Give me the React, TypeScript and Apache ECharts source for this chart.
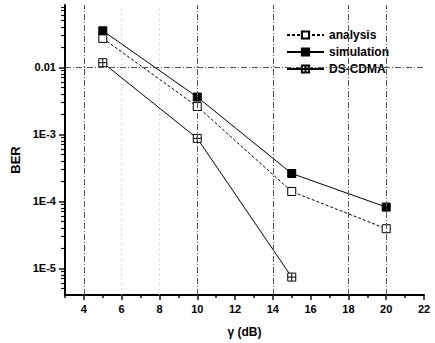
import React, { useEffect, useRef } from "react";
import * as echarts from "echarts";

const gamma = [5, 10, 15, 20];
const analysis = [0.027, 0.0026, 1.4e-4, 3.9e-5];
const simulation = [0.035, 0.0036, 2.6e-4, 8.2e-5];
const dsGamma = [5, 10, 15];
const dsCdma = [0.0117, 8.7e-4, 7.4e-6];

const xTickLabels = [4, 6, 8, 10, 12, 14, 16, 18, 20, 22];
const xMinorTicks = [3, 5, 7, 9, 11, 13, 15, 17, 19, 21];
const yTickLabels = [1e-5, 1e-4, 1e-3, 0.01];
const yMinorTicks: number[] = [];
for (let e = -6; e <= -2; e++) {
  for (let m = 2; m <= 9; m++) {
    const v = m * Math.pow(10, e);
    if (v > 4e-6 && v < 0.085) yMinorTicks.push(v);
  }
}

const strongX = [4, 10, 14, 18, 20];
const faintX = [6, 8];
const strongY = [0.01, 1e-3, 1e-5];
const faintY = [1e-4];

const FONT = "'Liberation Sans', Arial, sans-serif";

function fmtY(v: number) {
  if (v >= 0.01 - 1e-9) return "0.01";
  const e = Math.round(Math.log10(v));
  return "1E" + e;
}

const crossSquare = "path://M0,0H10V10H0Z M5,0V10 M0,5H10";

export default function App() {
  const ref = useRef<HTMLDivElement>(null);
  useEffect(() => {
    if (!ref.current) return;
    const chart = echarts.init(ref.current, undefined, { renderer: "svg" });
    const strongStyle = { color: "#555", width: 1, type: [6, 2, 1, 2] };
    const faintStyle = { color: "#bbb", width: 1, type: [1, 4] };
    const markData: any[] = [
      ...strongX.map((v) => ({ xAxis: v, lineStyle: strongStyle })),
      ...faintX.map((v) => ({ xAxis: v, lineStyle: faintStyle })),
      ...strongY.map((v) => ({ yAxis: v, lineStyle: strongStyle })),
      ...faintY.map((v) => ({ yAxis: v, lineStyle: faintStyle })),
    ];
    chart.setOption({
      animation: false,
      backgroundColor: "#fff",
      grid: { left: 65, right: 11, top: 5, bottom: 48 },
      legend: {
        orient: "vertical",
        left: 281,
        top: 23,
        itemWidth: 37,
        itemHeight: 9,
        itemGap: 3,
        textStyle: { fontFamily: FONT, fontSize: 12, fontWeight: "bold", color: "#000", lineHeight: 14 },
        data: ["analysis", "simulation", "DS-CDMA"],
      },
      xAxis: [
        {
          type: "value",
          min: 3,
          max: 22,
          name: "γ (dB)",
          nameLocation: "middle",
          nameGap: 31,
          nameTextStyle: { fontFamily: FONT, fontSize: 12, fontWeight: "bold", color: "#000" },
          axisLine: { show: true, lineStyle: { color: "#000", width: 2 } },
          axisTick: { show: true, length: 5, customValues: xTickLabels, lineStyle: { color: "#111", width: 1.5 } },
          axisLabel: {
            customValues: xTickLabels,
            fontFamily: FONT,
            fontSize: 11,
            fontWeight: "bold",
            color: "#000",
            margin: 8,
          },
          splitLine: { show: false },
        },
        {
          type: "value",
          min: 3,
          max: 22,
          position: "bottom",
          axisLine: { show: false },
          axisTick: { show: true, length: 3, customValues: xMinorTicks, lineStyle: { color: "#111", width: 1.5 } },
          axisLabel: { show: false },
          splitLine: { show: false },
        },
      ],
      yAxis: [
        {
          type: "log",
          logBase: 10,
          min: 4e-6,
          max: 0.085,
          position: "left",
          axisLine: { show: true, lineStyle: { color: "#000", width: 2 } },
          axisTick: { show: true, length: 6, customValues: yTickLabels, lineStyle: { color: "#111", width: 1.5 } },
          axisLabel: {
            customValues: yTickLabels,
            formatter: (v: number) => fmtY(v),
            fontFamily: FONT,
            fontSize: 11,
            fontWeight: "bold",
            color: "#000",
            margin: 9,
          },
          splitLine: { show: false },
        },
        {
          type: "log",
          logBase: 10,
          min: 4e-6,
          max: 0.085,
          position: "left",
          axisLine: { show: false },
          axisTick: { show: true, length: 4, customValues: yMinorTicks, lineStyle: { color: "#111", width: 1.2 } },
          axisLabel: { show: false },
          splitLine: { show: false },
        },
      ],
      graphic: [
        {
          type: "text",
          x: 15,
          y: 160,
          rotation: Math.PI / 2,
          style: {
            text: "BER",
            fontFamily: FONT,
            fontSize: 13,
            fontWeight: "bold",
            fill: "#000",
            align: "center",
            verticalAlign: "middle",
          },
        },
      ],
      series: [
        {
          name: "grid",
          type: "line",
          data: [],
          silent: true,
          markLine: {
            silent: true,
            symbol: "none",
            label: { show: false },
            data: markData,
          },
          z: 1,
        },
        {
          name: "analysis",
          type: "line",
          data: gamma.map((g, i) => [g, analysis[i]]),
          symbol: "rect",
          symbolSize: 8,
          lineStyle: { color: "#000", width: 1, type: [3, 2] },
          itemStyle: { color: "#fff", borderColor: "#000", borderWidth: 1 },
          z: 3,
        },
        {
          name: "simulation",
          type: "line",
          data: gamma.map((g, i) => [g, simulation[i]]),
          symbol: "rect",
          symbolSize: 8,
          lineStyle: { color: "#000", width: 1 },
          itemStyle: { color: "#000", borderColor: "#000", borderWidth: 1 },
          z: 3,
        },
        {
          name: "DS-CDMA",
          type: "line",
          data: dsGamma.map((g, i) => [g, dsCdma[i]]),
          symbol: crossSquare,
          symbolSize: 8,
          lineStyle: { color: "#000", width: 1 },
          itemStyle: { color: "#fff", borderColor: "#000", borderWidth: 1 },
          z: 3,
        },
      ],
    });
    return () => chart.dispose();
  }, []);
  return <div ref={ref} style={{ width: 435, height: 343, position: "absolute", left: 0, top: 0 }} />;
}
